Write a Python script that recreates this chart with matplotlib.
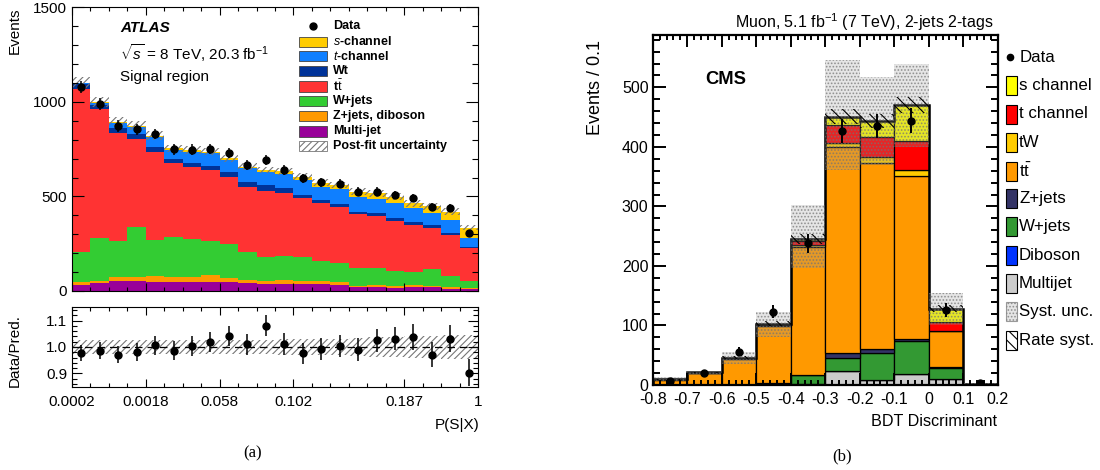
import numpy as np
import matplotlib
matplotlib.use('Agg')
import matplotlib.pyplot as plt
from matplotlib.patches import Rectangle
from matplotlib.lines import Line2D
from matplotlib.ticker import MultipleLocator

plt.rcParams['font.family'] = ['Liberation Sans', 'DejaVu Sans']
plt.rcParams['mathtext.fontset'] = 'custom'
plt.rcParams['mathtext.rm'] = 'Liberation Sans'
plt.rcParams['mathtext.it'] = 'Liberation Sans:italic'
plt.rcParams['mathtext.bf'] = 'Liberation Sans:bold'
plt.rcParams['axes.unicode_minus'] = False
plt.rcParams['hatch.linewidth'] = 0.8

# ============ (a) ATLAS: P(S|X), 22 bins ============
atlas_tick_bins = [0, 4, 8, 12, 18, 22]
atlas_tick_labels = ['0.0002', '0.0018', '0.058', '0.102', '0.187', '1']

a_multijet = [30, 40, 55, 55, 50, 47, 45, 45, 45, 40, 38, 37, 35, 35, 33, 23, 23, 18, 19, 23, 11, 9]
a_zjets = [19, 13, 17, 21, 29, 25, 31, 38, 22, 20, 17, 21, 20, 17, 14, 5, 9, 10, 13, 3, 8, 5]
a_wjets = [159, 225, 192, 261, 191, 212, 201, 183, 181, 145, 126, 126, 125, 108, 103, 92, 88, 79, 70, 89, 60, 39]
a_ttbar = [862, 684, 569, 465, 466, 391, 380, 374, 356, 345, 350, 335, 310, 303, 296, 285, 276, 265, 247, 220, 217, 173]
a_wt = [25, 24, 27, 26, 27, 21, 21, 22, 23, 28, 29, 24, 17, 18, 14, 15, 15, 12, 17, 14, 12, 8]
a_tchan = [3, 8, 30, 41, 53, 49, 58, 66, 65, 70, 71, 75, 80, 70, 77, 75, 75, 79, 71, 65, 67, 44]
a_schan = [2, 7, 5, 5, 6, 9, 8, 9, 9, 9, 9, 14, 17, 22, 23, 30, 30, 36, 26, 35, 44, 57]
a_data = [1080, 987, 872, 856, 830, 749, 748, 752, 730, 666, 692, 640, 596, 574, 567, 525, 525, 507, 493, 446, 437, 305]
a_ratio = [0.977, 0.986, 0.971, 0.982, 1.006, 0.986, 1.003, 1.019, 1.041, 1.010, 1.081, 1.011,
           0.976, 0.992, 1.004, 0.990, 1.025, 1.032, 1.038, 0.970, 1.032, 0.903]
a_unc = [0.027, 0.027, 0.027, 0.027, 0.027, 0.027, 0.027, 0.027, 0.028, 0.028, 0.028, 0.029,
         0.029, 0.030, 0.031, 0.033, 0.036, 0.038, 0.040, 0.042, 0.044, 0.045]

a_names = ['Multi-jet', 'Z+jets, diboson', 'W+jets', r't$\bar{\mathrm{t}}$', 'Wt', r'$\mathit{t}$-channel', r'$\mathit{s}$-channel']
a_colors = ['#990099', '#FF9900', '#33CC33', '#FF3333', '#003399', '#0F7FFF', '#FFCC00']
a_stack = [a_multijet, a_zjets, a_wjets, a_ttbar, a_wt, a_tchan, a_schan]

# ============ (b) CMS: BDT discriminant ============
c_edges = [-0.8, -0.7, -0.6, -0.5, -0.4, -0.3, -0.2, -0.1, 0.0, 0.1, 0.2]
c_multijet = [0, 0, 0, 0.5, 1, 23, 8, 18, 10, 0]
c_diboson = [0, 0, 0, 0, 0.3, 1, 0.5, 0.5, 0.3, 0]
c_wjets = [0, 0, 0.5, 3, 15, 22, 45, 55, 18, 0]
c_zjets = [0, 0, 0, 0.5, 1, 7, 7, 4, 2, 0]
c_ttbar = [9, 20, 43.5, 95, 214, 347, 312, 274, 60, 1.5]
c_tw = [0.3, 0.5, 1, 2, 4, 7, 10, 10, 1, 0]
c_tchan = [0.2, 0.3, 0.5, 1, 7, 29, 34, 49, 14, 0.2]
c_schan = [0.2, 0.3, 0.5, 1, 3, 15, 27, 60, 23, 0.2]
c_data = [6, 21, 56, 123, 238, 427, 435, 444, 126, 4]
c_syst_up = [13, 24, 56, 123, 302, 546, 518, 539, 154, 3]
c_syst_dn = [6, 17, 35, 80, 196, 362, 370, 400, 100, 1]
c_rate = [0.5, 1, 2, 4, 9, 12, 12, 14, 6, 0.1]

c_stack = [c_multijet, c_diboson, c_wjets, c_zjets, c_ttbar, c_tw, c_tchan, c_schan]
c_colors = ['#CCCCCC', '#0033FF', '#339933', '#333366', '#FF9900', '#FFCC00', '#FF0000', '#FFFF00']
c_leg_names = ['s channel', 't channel', 'tW', r't$\bar{\mathrm{t}}$', 'Z+jets', 'W+jets', 'Diboson', 'Multijet']
c_leg_colors = ['#FFFF00', '#FF0000', '#FFCC00', '#FF9900', '#333366', '#339933', '#0033FF', '#CCCCCC']

W, H = 1100, 470


def box(x0, y0, x1, y1):
    return [x0 / W, 1 - y1 / H, (x1 - x0) / W, (y1 - y0) / H]


def rect(x, y, w, h, **kw):
    r = Rectangle((x / W, 1 - (y + h) / H), w / W, h / H, transform=fig.transFigure, **kw)
    fig.add_artist(r)


def ftext(x, y, s, **kw):
    fig.text(x / W, 1 - y / H, s, **kw)


fig = plt.figure(figsize=(11, 4.7), dpi=100)

# ---------------- ATLAS main panel ----------------
ax1 = fig.add_axes(box(72, 7.3, 478, 291))
ax2 = fig.add_axes(box(72, 307.3, 478, 386.7))

a_edges = np.arange(23)
a_cent = a_edges[:-1] + 0.5
bottom = np.zeros(22)
for vals, col in zip(a_stack, a_colors):
    vals = np.array(vals, float)
    ax1.stairs(bottom + vals, a_edges, baseline=bottom, fill=True, color=col, lw=0)
    bottom = bottom + vals
a_total = bottom

lo = a_total * (1 - np.array(a_unc))
hi = a_total * (1 + np.array(a_unc))
ax1.fill_between(a_edges, np.append(lo, lo[-1]), np.append(hi, hi[-1]), step='post',
                 facecolor='none', edgecolor='#777777', hatch='/////', linewidth=0)

a_data = np.array(a_data, float)
ax1.errorbar(a_cent, a_data, yerr=np.sqrt(a_data), fmt='o', color='black', ms=5,
             elinewidth=1.1, capsize=0)

ax1.set_xlim(0, 22)
ax1.set_ylim(0, 1500)
ax1.set_xticks(atlas_tick_bins)
ax1.set_xticklabels([])
ax1.xaxis.set_minor_locator(MultipleLocator(1))
ax1.set_yticks([0, 500, 1000, 1500])
ax1.yaxis.set_minor_locator(MultipleLocator(100))
ax1.tick_params(which='both', direction='in', top=True, right=True, labelsize=11, width=0.8)
ax1.tick_params(axis='y', which='major', length=8.5)
ax1.tick_params(axis='y', which='minor', length=4.5)
ax1.tick_params(axis='x', which='major', length=5.5)
ax1.tick_params(axis='x', which='minor', length=3)
for s in ax1.spines.values():
    s.set_linewidth(0.8)

# ---------------- ATLAS ratio panel ----------------
unc = np.array(a_unc)
ax2.fill_between(a_edges, np.append(1 - unc, 1 - unc[-1]), np.append(1 + unc, 1 + unc[-1]),
                 step='post', facecolor='none', edgecolor='#777777', hatch='/////', linewidth=0)
ax2.axhline(1.0, color='black', ls=(0, (6, 4)), lw=0.9)
ax2.errorbar(a_cent, a_ratio, yerr=np.sqrt(a_data) / a_total, fmt='o', color='black', ms=5,
             elinewidth=1.1, capsize=0)
ax2.set_xlim(0, 22)
ax2.set_ylim(0.85, 1.15)
ax2.set_xticks(atlas_tick_bins)
ax2.set_xticklabels(atlas_tick_labels)
ax2.xaxis.set_minor_locator(MultipleLocator(1))
ax2.set_yticks([0.9, 1.0, 1.1])
ax2.set_yticklabels(['0.9', '1.0', '1.1'])
ax2.yaxis.set_minor_locator(MultipleLocator(0.02))
ax2.tick_params(which='both', direction='in', top=True, right=True, labelsize=11, width=0.8)
ax2.tick_params(axis='y', which='major', length=7)
ax2.tick_params(axis='y', which='minor', length=3.5)
ax2.tick_params(axis='x', which='major', length=6, pad=6)
ax2.tick_params(axis='x', which='minor', length=3)
for s in ax2.spines.values():
    s.set_linewidth(0.8)

ftext(15, 8, 'Events', rotation=90, ha='center', va='top', fontsize=11)
ftext(15, 351, 'Data/Pred.', rotation=90, ha='center', va='center', fontsize=11)
ftext(480, 425, 'P(S|X)', ha='right', va='center', fontsize=11)
ftext(253, 453, '(a)', ha='center', va='center', fontsize=12, family='Liberation Serif')

ftext(120, 28, 'ATLAS', ha='left', va='center', fontsize=11, fontweight='bold', fontstyle='italic')
ftext(120, 53, r'$\sqrt{s}$ = 8 TeV, 20.3 fb$^{-1}$', ha='left', va='center', fontsize=11)
ftext(120, 77, 'Signal region', ha='left', va='center', fontsize=11)

# ATLAS legend
leg_y = [41.7, 56, 71, 86.5, 101, 116, 131.5]
rect_x, rect_w, rect_h = 299, 28, 10
ftext(333, 25.7, 'Data', ha='left', va='center', fontsize=9, fontweight='bold')
fig.add_artist(Line2D([313 / W], [1 - 25.7 / H], marker='o', color='black', ms=5,
                      transform=fig.transFigure))
for name, col, y in zip(a_names[::-1], a_colors[::-1], leg_y):
    rect(rect_x, y - rect_h / 2, rect_w, rect_h, facecolor=col, edgecolor='#444444', lw=0.6)
    ftext(333, y, name, ha='left', va='center', fontsize=9, fontweight='bold')
rect(rect_x, 145.7 - rect_h / 2, rect_w, rect_h, facecolor='white', edgecolor='#777777',
     hatch='/////', lw=0.6)
ftext(333, 145.7, 'Post-fit uncertainty', ha='left', va='center', fontsize=9, fontweight='bold')

# ---------------- CMS panel ----------------
ax3 = fig.add_axes(box(652.7, 35, 997.7, 385))
c_edges = np.array(c_edges)
c_cent = (c_edges[:-1] + c_edges[1:]) / 2
bottom = np.zeros(10)
for vals, col in zip(c_stack, c_colors):
    vals = np.array(vals, float)
    ax3.bar(c_cent, vals, width=0.1, bottom=bottom, color=col, edgecolor='black', linewidth=0.9)
    bottom = bottom + vals
c_total = bottom
ax3.stairs(c_total, c_edges, color='black', lw=1.8, baseline=0)

up = np.array(c_syst_up, float)
dn = np.array(c_syst_dn, float)
ax3.fill_between(c_edges, np.append(dn, dn[-1]), np.append(up, up[-1]), step='post',
                 facecolor=(0.6, 0.6, 0.6, 0.25), edgecolor=(0.45, 0.45, 0.45, 0.7),
                 hatch='.....', linewidth=0)
rate = np.array(c_rate)
ax3.fill_between(c_edges, np.append(c_total - rate, c_total[-1] - rate[-1]),
                 np.append(c_total + rate, c_total[-1] + rate[-1]), step='post',
                 facecolor='none', edgecolor='black', hatch='\\\\\\', linewidth=0)

c_data = np.array(c_data, float)
ax3.errorbar(c_cent, c_data, yerr=np.sqrt(c_data), fmt='o', color='black', ms=5,
             elinewidth=1.4, capsize=0)

ax3.set_xlim(-0.8, 0.2)
ax3.set_ylim(0, 588)
ax3.set_xticks(c_edges)
ax3.set_xticklabels(['-0.8', '-0.7', '-0.6', '-0.5', '-0.4', '-0.3', '-0.2', '-0.1', '0', '0.1', '0.2'])
ax3.xaxis.set_minor_locator(MultipleLocator(0.02))
ax3.set_yticks([0, 100, 200, 300, 400, 500])
ax3.yaxis.set_minor_locator(MultipleLocator(20))
ax3.tick_params(which='both', direction='in', top=True, right=True, labelsize=11.5, width=1.4)
ax3.tick_params(axis='y', which='major', length=9, pad=3)
ax3.tick_params(axis='y', which='minor', length=5)
ax3.tick_params(axis='x', which='major', length=8.4, pad=5)
ax3.tick_params(axis='x', which='minor', length=3.6)
for s in ax3.spines.values():
    s.set_linewidth(1.6)

ftext(993, 21.7, r'Muon, 5.1 fb$^{-1}$ (7 TeV), 2-jets 2-tags', ha='right', va='center',
      fontsize=11.5)
ftext(705, 80, 'CMS', ha='left', va='center', fontsize=13.2, fontweight='bold')
ftext(595, 40, 'Events / 0.1', rotation=90, ha='center', va='top', fontsize=13)
ftext(997, 422, 'BDT Discriminant', ha='right', va='center', fontsize=11.6)
ftext(842, 456, '(b)', ha='center', va='center', fontsize=12, family='Liberation Serif')

# CMS legend
c_leg_y = [85, 114, 142.3, 171, 198.3, 226.7, 255, 283.3]
fig.add_artist(Line2D([1010 / W], [1 - 57.3 / H], marker='o', color='black', ms=4.5,
                      transform=fig.transFigure))
ftext(1020, 57.3, 'Data', ha='left', va='center', fontsize=12.2)
for name, col, y in zip(c_leg_names, c_leg_colors, c_leg_y):
    rect(1005.7, y - 9.5, 11.3, 19, facecolor=col, edgecolor='black', lw=0.8)
    ftext(1019, y, name, ha='left', va='center', fontsize=12.2)
rect(1005.7, 311.7 - 9.5, 11.3, 19, facecolor=(0.6, 0.6, 0.6, 0.25),
     edgecolor=(0.45, 0.45, 0.45, 0.7), hatch='.....', lw=0.8)
ftext(1019, 311.7, 'Syst. unc.', ha='left', va='center', fontsize=12.2)
rect(1005.7, 340 - 9.5, 11.3, 19, facecolor='white', edgecolor='black', hatch='\\\\\\', lw=0.8)
ftext(1019, 340, 'Rate syst.', ha='left', va='center', fontsize=12.2)

plt.savefig('out.png', dpi=100)
